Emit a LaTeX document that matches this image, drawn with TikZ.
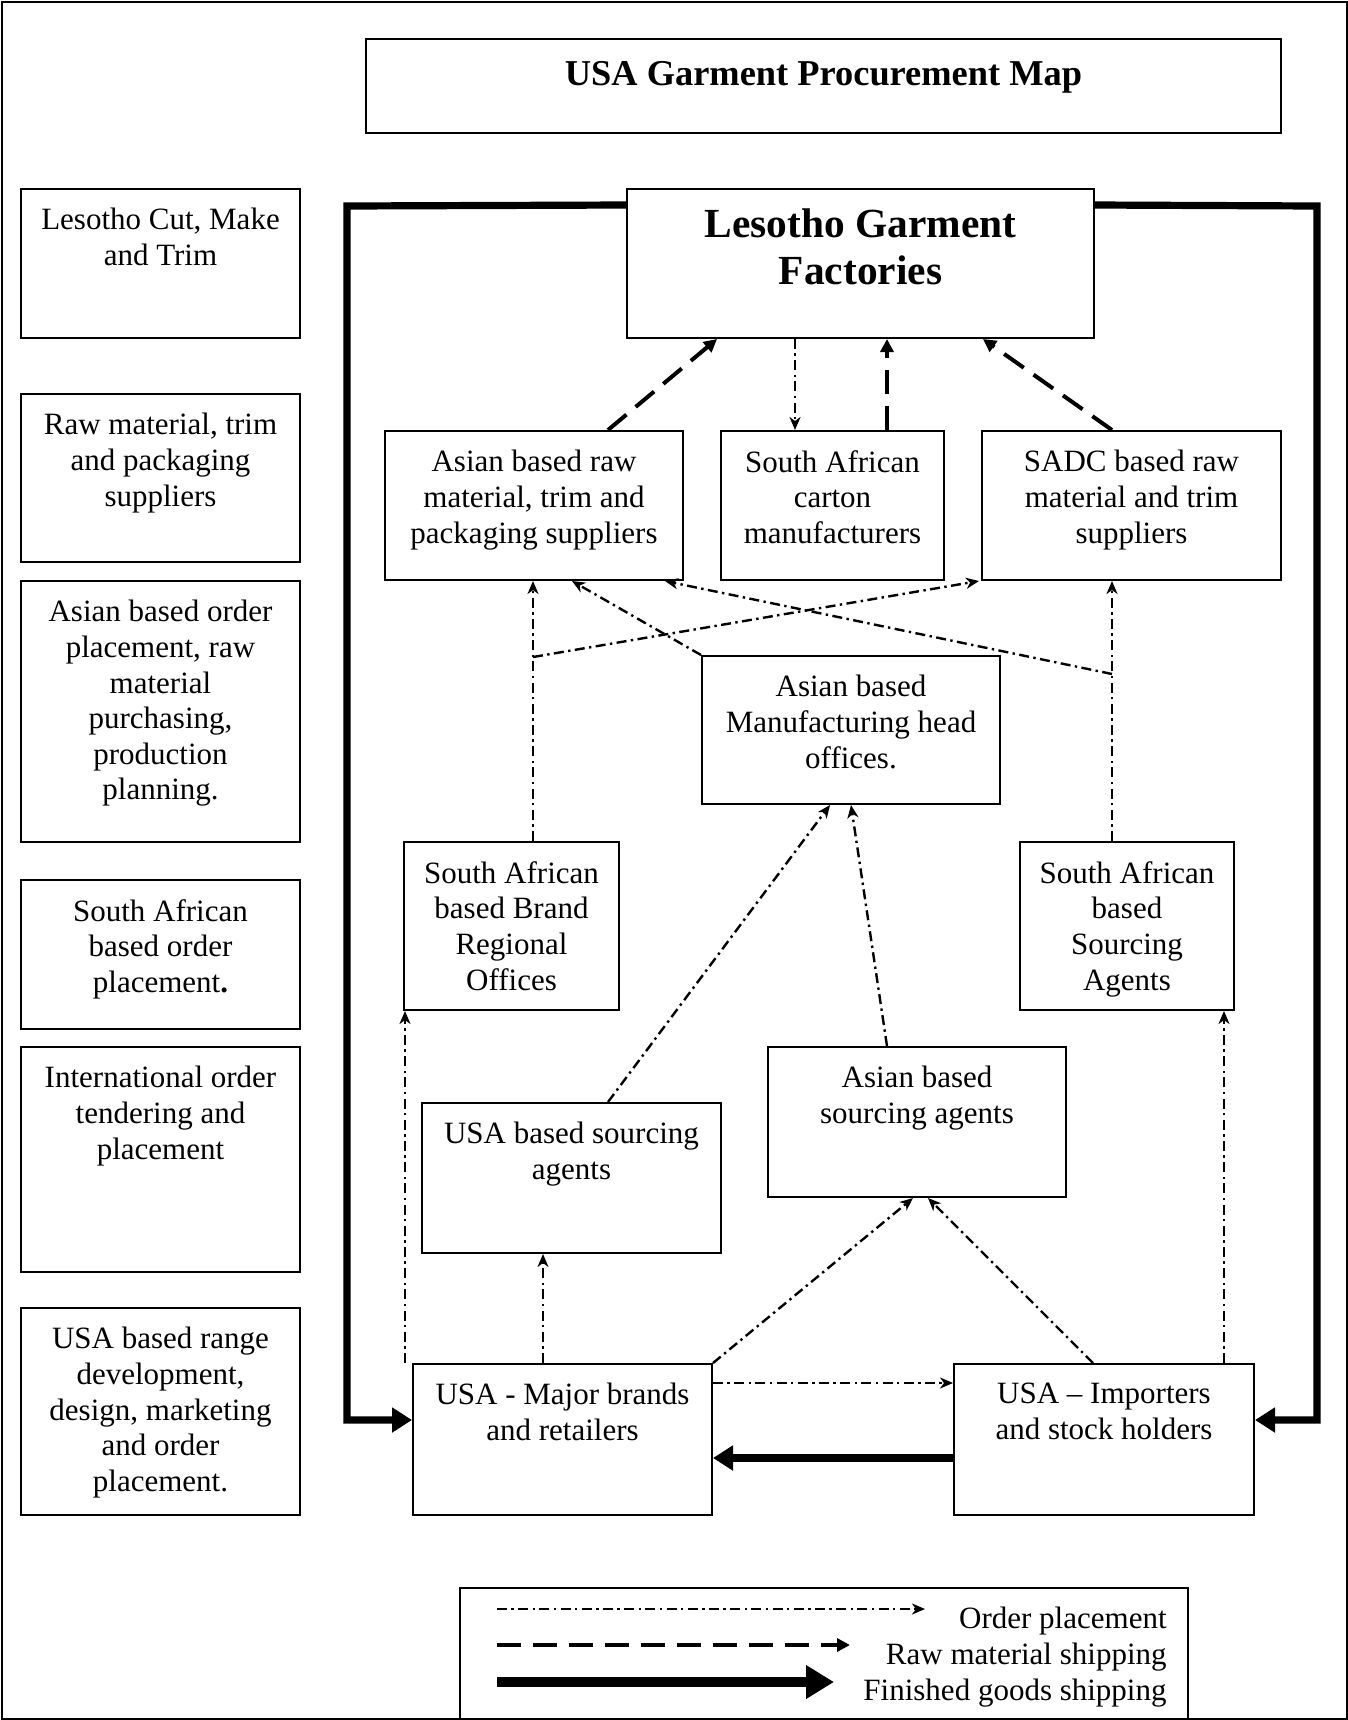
\documentclass[tikz,border=0pt]{standalone}
\usepackage{fontspec}
\setmainfont{Liberation Serif}
\usetikzlibrary{arrows.meta,calc,fit}
\newcommand\bx[7][]{%
  \node[boxst, fit={(#3,#4)(#5,#6)}] (#2) {};
  \node[txt, anchor=north, #1] (#2-t) at ([yshift=-10pt]#2.north) {#7};}
\begin{document}
\begin{tikzpicture}[x=0.5pt,y=-0.5pt,
  boxst/.style={draw,line width=1pt,inner sep=0pt},
  txt/.style={align=center,inner sep=0pt,font=\fontsize{15.5}{17.8}\selectfont},
  order/.style={line width=1.2pt,dash pattern=on 5pt off 2.2pt on 1.2pt off 2.2pt,-{Stealth[length=6.5pt,width=5.5pt,inset=2pt]}},
  raw/.style={line width=2pt,dash pattern=on 12pt off 6pt,-{Triangle[length=6.5pt,width=6.5pt]}},
  fin/.style={line width=3.6pt,-{Triangle[length=10pt,width=12pt]}}]
\useasboundingbox (0,0) rectangle (1348,1720);
\draw[line width=1pt] (1.5,1.5) rectangle (1346.5,1718.5);

% title
\bx[font=\bfseries\fontsize{18.2}{21}\selectfont, yshift=-1.5pt]{title}{366}{39}{1281}{133}{USA Garment Procurement Map}

% left column
\bx{L1}{21}{189}{300}{338}{Lesotho Cut, Make\\and Trim}
\bx{L2}{21}{394}{300}{562}{Raw material, trim\\and packaging\\suppliers}
\bx{L3}{21}{581}{300}{842}{Asian based order\\placement, raw\\material\\purchasing,\\production\\planning.}
\bx{L4}{21}{880}{300}{1029}{South African\\based order\\placement\textbf{.}}
\bx{L5}{21}{1047}{300}{1272}{International order\\tendering and\\placement}
\bx{L6}{21}{1308}{300}{1515}{USA based range\\development,\\design, marketing\\and order\\placement.}

% main boxes
\bx[font=\bfseries\fontsize{20.7}{23.5}\selectfont]{fact}{627}{189}{1094}{338}{Lesotho Garment\\Factories}
\bx{araw}{385}{431}{683}{580}{Asian based raw\\material, trim and\\packaging suppliers}
\bx{carton}{721}{431}{944}{580}{South African\\carton\\manufacturers}
\bx{sadc}{982}{431}{1281}{580}{SADC based raw\\material and trim\\suppliers}
\bx{mfg}{702}{656}{1000}{804}{Asian based\\Manufacturing head\\offices.}
\bx{brand}{404}{842}{619}{1010}{South African\\based Brand\\Regional\\Offices}
\bx{sasrc}{1020}{842}{1234}{1010}{South African\\based\\Sourcing\\Agents}
\bx{asrc}{768}{1047}{1066}{1197}{Asian based\\sourcing agents}
\bx{usrc}{422}{1103}{721}{1253}{USA based sourcing\\agents}
\bx{major}{413}{1364}{712}{1515}{USA - Major brands\\and retailers}
\bx{imp}{954}{1364}{1254}{1515}{USA -- Importers\\and stock holders}

% raw material shipping
\draw[raw] ($(araw.north west)+(224,0)$) -- ($(fact.south west)+(91,0)$);
\draw[raw] ($(carton.north west)+(167,0)$) -- ($(fact.south west)+(261,0)$);
\draw[raw] ($(sadc.north west)+(131,0)$) -- ($(fact.south west)+(357,0)$);

% order placement
\draw[order] ($(fact.south west)+(169,0)$) -- ($(carton.north west)+(75,0)$);
\coordinate (j1) at ($(araw.south west)+(149,76)$);
\draw[order] (brand.north -| j1) -- (araw.south -| j1);
\draw[order] (j1) -- ($(sadc.south west)+(-2,0)$);
\draw[order] (mfg.north west) -- ($(araw.south west)+(188,0)$);
\coordinate (j2) at ($(sadc.south west)+(131,93)$);
\draw[order] (sasrc.north -| j2) -- (sadc.south -| j2);
\draw[order] (j2) -- ($(araw.south west)+(281,0)$);
\draw[order] ($(usrc.north west)+(187,0)$) -- ($(mfg.south west)+(129,0)$);
\draw[order] ($(asrc.north west)+(120,0)$) -- ($(mfg.south west)+(150,0)$);
\coordinate (c10) at ($(brand.south west)+(2,0)$);
\draw[order] (major.north -| c10) -- (c10);
\draw[order] ($(major.north west)+(131,0)$) -- ($(usrc.south west)+(122,0)$);
\draw[order] (major.north east) -- ($(asrc.south west)+(146,0)$);
\draw[order] ($(imp.north west)+(140,0)$) -- ($(asrc.south west)+(161,0)$);
\draw[order] ($(imp.north west)+(271,0)$) -- ($(sasrc.south west)+(205,0)$);
\draw[order] ($(major.north east)+(0,20)$) -- ($(imp.north west)+(0,20)$);

% finished goods shipping
\draw[fin] ($(imp.north west)+(0,95)$) -- ($(major.north east)+(0,95)$);
\coordinate (lt) at (347,206);
\coordinate (rt) at (1317,206);
\draw[fin] ($(fact.north west)+(0,17)$) -- (lt) |- ($(major.north west)+(0,57)$);
\draw[fin] ($(fact.north east)+(0,17)$) -- (rt) |- ($(imp.north east)+(0,57)$);

% legend
\node[boxst, fit={(460,1588)(1188,1722)}] (legend) {};
\coordinate (la1) at (497,1609); \coordinate (lb1) at (925,1609);
\coordinate (la2) at (497,1645); \coordinate (lb2) at (850,1645);
\coordinate (la3) at (497,1682); \coordinate (lb3) at (834,1682);
\draw[order] (la1) -- (lb1);
\draw[raw] (la2) -- (lb2);
\draw[line width=5pt,-{Triangle[length=14pt,width=16pt]}] (la3) -- (lb3);
\node[txt,anchor=base east] (lg1) at (1167,1628) {Order placement};
\node[txt,anchor=base east] (lg2) at (1167,1664) {Raw material shipping};
\node[txt,anchor=base east] (lg3) at (1167,1700) {Finished goods shipping};
\end{tikzpicture}
\end{document}
